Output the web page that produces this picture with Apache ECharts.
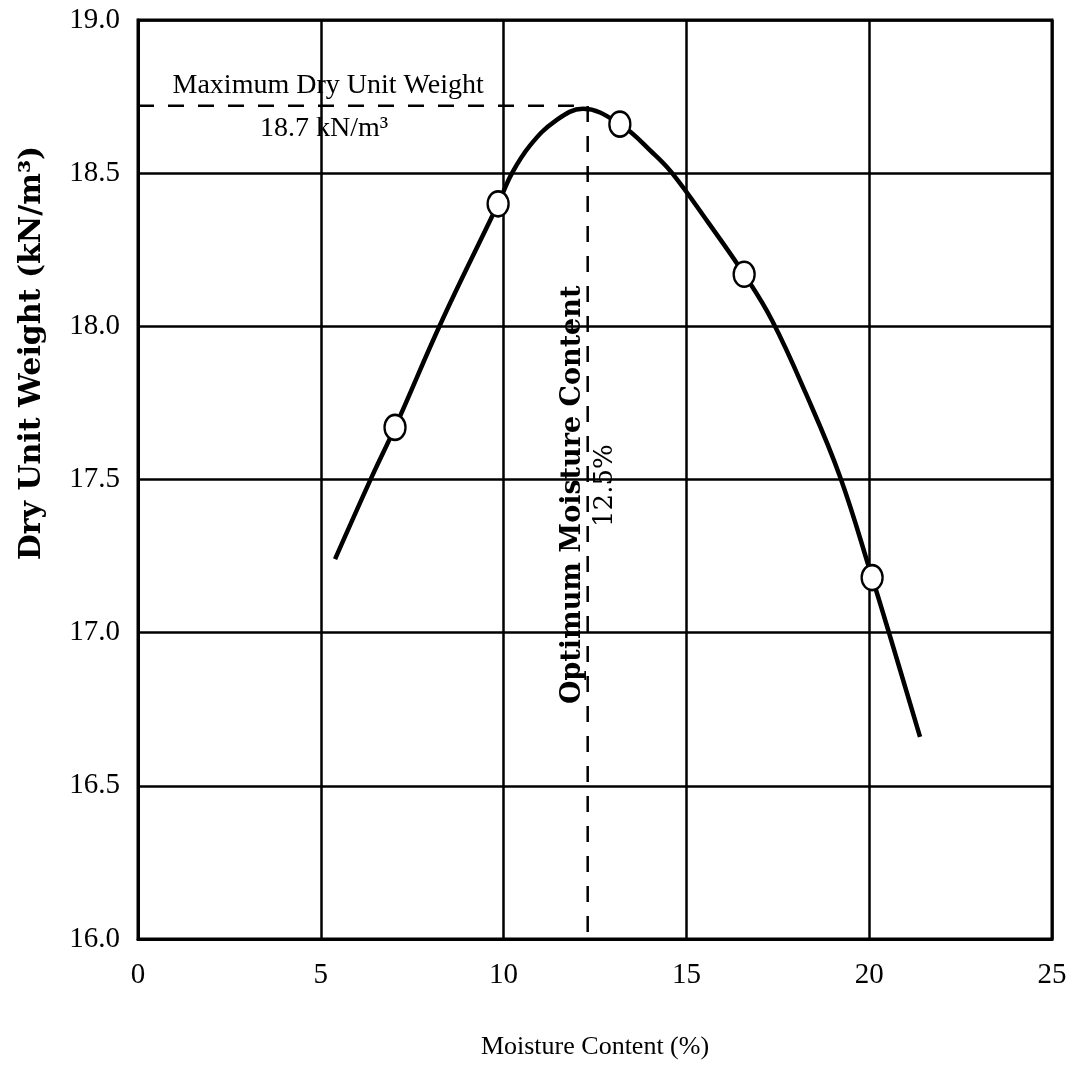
<!DOCTYPE html>
<html>
<head>
<meta charset="utf-8">
<title>Compaction curve</title>
<script src="https://cdn.jsdelivr.net/npm/echarts@6/dist/echarts.min.js"></script>
<style>
  html, body { margin: 0; padding: 0; background: #fff; }
  #main { width: 1089px; height: 1065px; }
</style>
</head>
<body>
<div id="main"></div>
<script>
// measured points (moisture %, dry unit weight kN/m3)
var testMoisture = [7.03, 9.85, 13.18, 16.58, 20.08];
var testWeight   = [17.67, 18.40, 18.66, 18.17, 17.18];

// fitted curve
var curveMoisture = [5.39, 6.40, 7.03, 8.32, 9.85, 10.23, 10.72, 11.41, 12.17, 13.18, 14.09, 14.61, 15.59, 16.58, 17.34, 18.27, 19.20, 20.08, 20.54, 21.39];
var curveWeight   = [17.24, 17.51, 17.67, 18.02, 18.40, 18.50, 18.59, 18.67, 18.71, 18.66, 18.565, 18.50, 18.34, 18.17, 18.02, 17.78, 17.51, 17.18, 17.00, 16.66];

var maxDryWeight = 18.72;
var optMoisture = 12.3;

var xTicks = [0, 5, 10, 15, 20, 25];
var yTicks = [16.0, 16.5, 17.0, 17.5, 18.0, 18.5, 19.0];

var serif = '"Liberation Serif", "Times New Roman", serif';
var wideSerif = '"DejaVu Serif", serif';

var chart = echarts.init(document.getElementById('main'));

var curveData = curveMoisture.map(function (x, i) { return [x, curveWeight[i]]; });
var testData = testMoisture.map(function (x, i) { return [x, testWeight[i]]; });
var guideData = [[xTicks[0], maxDryWeight], [optMoisture, maxDryWeight], [optMoisture, yTicks[0]]];

var option = {
  animation: false,
  backgroundColor: '#fff',
  grid: {
    left: 138, right: 37, top: 20, bottom: 124,
    show: true, borderColor: '#000', borderWidth: 3, backgroundColor: 'transparent'
  },
  xAxis: {
    type: 'value',
    min: xTicks[0], max: xTicks[xTicks.length - 1], interval: 5,
    name: 'Moisture Content (%)',
    nameLocation: 'middle',
    nameGap: 95,
    nameTextStyle: { fontFamily: serif, fontSize: 26, color: '#000' },
    axisLine: { lineStyle: { color: '#000', width: 3 } },
    axisTick: { show: false },
    axisLabel: { fontFamily: serif, fontSize: 29, color: '#000', margin: 22 },
    splitLine: { lineStyle: { color: '#000', width: 2.5 } }
  },
  yAxis: {
    type: 'value',
    min: yTicks[0], max: yTicks[yTicks.length - 1], interval: 0.5,
    axisLine: { lineStyle: { color: '#000', width: 3 } },
    axisTick: { show: false },
    axisLabel: {
      fontFamily: serif, fontSize: 29, color: '#000', margin: 18,
      formatter: function (v) { return v.toFixed(1); }
    },
    splitLine: { lineStyle: { color: '#000', width: 2.5 } }
  },
  graphic: [{
    type: 'text',
    x: 32, y: 353,
    rotation: Math.PI / 2,
    style: {
      text: 'Dry Unit Weight (kN/m³)',
      font: 'bold 30px ' + wideSerif,
      fill: '#000',
      align: 'center',
      verticalAlign: 'middle'
    }
  }],
  series: [
    {
      name: 'guides',
      type: 'line',
      data: guideData,
      symbol: 'none',
      z: 3,
      lineStyle: { color: '#000', width: 2.5, type: [16, 14] },
      markPoint: {
        symbolSize: 0,
        silent: true,
        data: [
          { coord: [5.20, 18.785], label: { formatter: 'Maximum Dry Unit Weight', fontFamily: serif, fontSize: 28, color: '#000' } },
          { coord: [5.09, 18.645], label: { formatter: '18.7 kN/m³', fontFamily: serif, fontSize: 28, color: '#000' } },
          { coord: [11.9, 17.45], label: { formatter: 'Optimum Moisture Content', rotate: 90, fontFamily: wideSerif, fontWeight: 'bold', fontSize: 27, color: '#000' } },
          { coord: [12.77, 17.48], label: { formatter: '12.5%', rotate: 90, fontFamily: wideSerif, fontSize: 26, color: '#000' } }
        ]
      }
    },
    {
      name: 'curve',
      type: 'line',
      data: curveData,
      smooth: 0.4,
      symbol: 'none',
      z: 4,
      lineStyle: { color: '#000', width: 4.5 }
    },
    {
      name: 'tests',
      type: 'scatter',
      data: testData,
      symbol: 'circle',
      symbolSize: [21, 25],
      z: 5,
      itemStyle: { color: '#fff', borderColor: '#000', borderWidth: 2.5, opacity: 1 }
    }
  ]
};

chart.setOption(option);
</script>
</body>
</html>
